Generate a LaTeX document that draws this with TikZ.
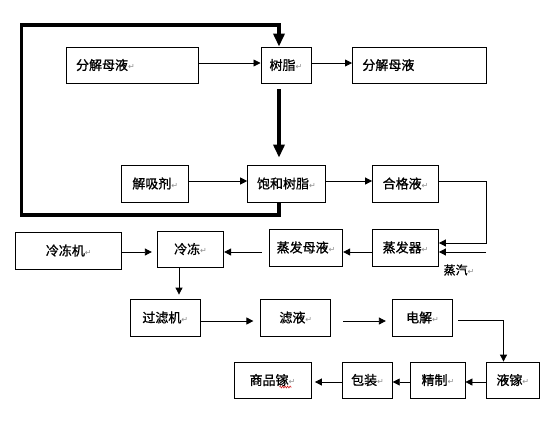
\documentclass[tikz,border=0pt]{standalone}
\usepackage{fontspec}
\setmainfont{Noto Sans CJK SC}[FakeBold=0.9]
\newfontfamily\dvfont{DejaVu Sans}
\usetikzlibrary{arrows.meta,calc,decorations.pathmorphing}
\newcommand\myret{{\dvfont\fontsize{8}{8}\selectfont\textcolor{black!45}{↵}}}
\begin{document}
\begin{tikzpicture}[x=1pt,y=-1pt,
  box/.style={draw, line width=0.8pt, inner sep=0pt, minimum height=36pt,
    font=\fontsize{13}{15}\selectfont},
  leftbox/.style={box, align=left, inner xsep=10pt},
  arr/.style={line width=0.8pt, -{Triangle[length=7pt,width=7pt]}},
  loopline/.style={line width=3.5pt, line join=miter},
  thickarr/.style={line width=3.5pt, -{Triangle[length=13pt,width=11pt]}},
  lbl/.style={inner sep=0pt, font=\fontsize{12}{14}\selectfont}
]
\useasboundingbox (0,0) rectangle (546,424);
\fill[white] (0,0) rectangle (546,424);

% row 1
\node[leftbox, text width=112.5pt] (fj1) at (132.3,65) {分解母液\myret};
\node[box, minimum width=50pt] (sz) at (285.9,65) {树脂\myret};
\node[leftbox, text width=113.6pt] (fj2) at (419.2,65) {分解母液};
% row 2
\node[box, minimum width=67pt, minimum height=37pt] (jxj) at (155.2,183.5) {解吸剂\myret};
\node[box, minimum width=77.6pt, minimum height=37pt] (bh) at (286.4,183.5) {饱和树脂\myret};
\node[box, minimum width=66pt, minimum height=37pt] (hg) at (405.5,183.5) {合格液\myret};
% row 3
\node[box, minimum width=106pt, minimum height=37pt] (ldj) at (68.7,250.5) {冷冻机\myret};
\node[box, minimum width=66.5pt] (ld) at (190.5,249) {冷冻\myret};
\node[box, minimum width=73.5pt, minimum height=37pt] (zfmy) at (306,247.5) {蒸发母液\myret};
\node[box, minimum width=66pt, minimum height=37pt] (zfq) at (405.5,247.5) {蒸发器\myret};
\node[lbl] (steam) at (459,270) {蒸汽\myret};
% row 4
\node[box, minimum width=70.3pt, minimum height=37pt] (glj) at (165.2,317.5) {过滤机\myret};
\node[box, minimum width=70pt, minimum height=37pt] (lye) at (295.8,317.5) {滤液\myret};
\node[box, minimum width=60.5pt, minimum height=37pt] (dj) at (422.5,317.5) {电解\myret};
% row 5
\node[box, minimum width=53.5pt] (yj) at (512.8,380) {液镓\myret};
\node[box, minimum width=54.2pt] (jz) at (437.9,380) {精制\myret};
\node[box, minimum width=49.6pt] (bz) at (367.5,380) {包装\myret};
\node[box, minimum width=77pt] (sp) at (272.5,380) {商品镓\myret};

% helper coordinates
\coordinate (r1) at (0,63);
\coordinate (r2) at (0,181);
\coordinate (r3a) at (0,243);
\coordinate (r3) at (0,252);
\coordinate (r4) at (0,321);
\coordinate (r5) at (0,382);
\coordinate (lbr) at (279,215);
\coordinate (ltr) at (279,25);
\coordinate (lbl) at (21.5,215);
\coordinate (ltl) at (21.5,25);
\coordinate (hr) at (486,181);
\coordinate (st) at (486,252);
\coordinate (dr) at (503.5,320);
\coordinate (vx) at (179,0);

% row 1 arrows
\draw[arr] (fj1.east |- r1) -- (sz.west |- r1);
\draw[arr] (sz.east |- r1) -- (fj2.west |- r1);
% thick loop
\draw[loopline] (bh.south -| lbr) -- (lbr) -- (lbl) -- (ltl) -- (ltr) -- ($(ltr)+(0,8)$);
\draw[thickarr] ($(ltr)+(0,6)$) -- (sz.north -| ltr);
\draw[thickarr] ($(sz.south -| lbr)+(0,6)$) -- ($(bh.north -| lbr)+(0,-7)$);
% row 2 arrows
\draw[arr] (jxj.east |- r2) -- (bh.west |- r2);
\draw[arr] (bh.east |- r2) -- (hg.west |- r2);
\draw[arr] (hg.east |- hr) -- (hr) -- (hr |- r3a) -- (zfq.east |- r3a);
\draw[arr] (st) -- (zfq.east |- st);
% row 3 arrows
\draw[arr] (zfq.west |- r3) -- (zfmy.east |- r3);
\draw[arr] ($(zfmy.west |- r3)+(-7,0)$) -- (ld.east |- r3);
\draw[arr] (ldj.east |- r3) -- ($(ld.west |- r3)+(-5,0)$);
\draw[arr] (ld.south -| vx) -- ($(glj.north -| vx)+(0,-4)$);
% row 4 arrows
\draw[arr] (glj.east |- r4) -- ($(lye.west |- r4)+(-7,0)$);
\draw[arr] ($(lye.east |- r4)+(12,0)$) -- ($(dj.west |- r4)+(-6,0)$);
\draw[arr] ($(dj.east |- dr)+(5,0)$) -- (dr) -- (yj.north -| dr);
% row 5 arrows
\draw[arr] (yj.west |- r5) -- (jz.east |- r5);
\draw[arr] (jz.west |- r5) -- (bz.east |- r5);
\draw[arr] (bz.west |- r5) -- ($(sp.east |- r5)+(3.5,0)$);
% spell-check mark
\draw[red!80!black, line width=0.5pt, decorate, decoration={zigzag, amplitude=1pt, segment length=2.5pt}]
  ($(sp.center)+(7,7)$) -- ($(sp.center)+(19,7)$);
\end{tikzpicture}
\end{document}
